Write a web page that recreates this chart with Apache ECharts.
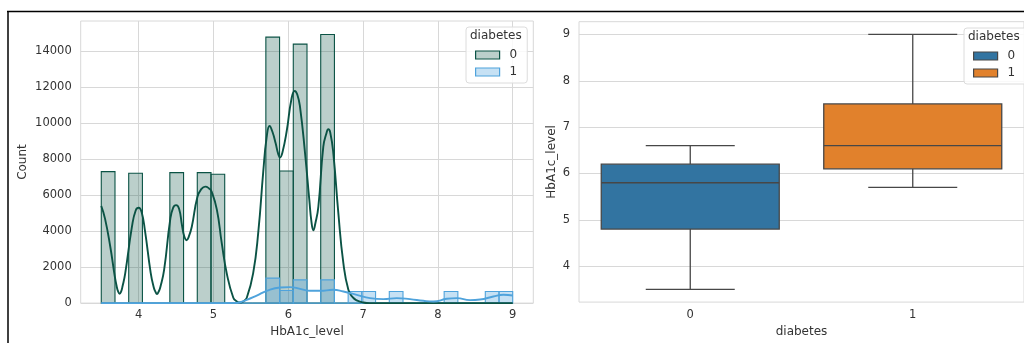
<!DOCTYPE html>
<html><head><meta charset="utf-8">
<script src="https://cdn.jsdelivr.net/npm/echarts@6/dist/echarts.min.js"></script>
<style>html,body{margin:0;padding:0;background:#fff}#c{width:1024px;height:343px}</style>
</head><body><div id="c"></div>
<script>
// ---------- data ----------
const binMin = 3.5, binMax = 9.0, binCount = 30;
const histCounts0 = [7311,0,7222,0,0,7256,0,7256,7167,0,0,0,14794,7350,14406,0,14944,0,0,0,0,0,0,0,0,0,0,0,0,0];
const histCounts1 = [0,0,0,0,0,0,0,0,0,0,0,0,1389,700,1294,0,1294,0,644,644,0,644,0,0,0,644,0,0,644,644];
const kdeX0 = [3.5,3.55,3.62,3.68,3.705,3.725,3.745,3.765,3.785,3.82,3.91,3.96,4.0,4.04,4.085,4.16,4.2,4.225,4.245,4.265,4.29,4.34,4.42,4.46,4.5,4.54,4.58,4.61,4.64,4.67,4.71,4.785,4.84,4.89,4.94,4.975,5.045,5.11,5.18,5.265,5.31,5.355,5.40,5.445,5.53,5.6,5.665,5.71,5.75,5.79,5.83,5.865,5.89,5.92,5.98,6.04,6.085,6.12,6.157,6.224,6.281,6.31,6.335,6.36,6.402,6.468,6.51,6.535,6.56,6.602,6.669,6.736,6.803,6.86,6.915,7.0,7.09,7.5,8.0,8.5,9.0];
const kdeY0 = [5400,4700,3150,1500,950,650,520,640,950,1650,4250,5150,5300,5050,4000,1700,900,620,500,620,900,1850,4600,5300,5450,5250,4300,3700,3500,3700,4250,5900,6350,6480,6380,6200,5200,3350,1600,300,100,30,100,300,1650,4000,7300,9200,9850,9500,8900,8300,8100,8350,9600,11300,11800,11600,10900,8333,5739,4500,4050,4400,5367,8700,9450,9667,9500,8333,5000,2222,739,330,150,40,0,0,0,0,0];
const kdeX1 = [3.5,4.0,4.5,5.0,5.3,5.444,5.578,5.712,5.89,6.023,6.157,6.29,6.424,6.602,6.736,6.915,7.093,7.27,7.45,7.627,7.805,7.939,8.118,8.252,8.43,8.563,8.741,8.875,9.0];
const kdeY1 = [0,0,0,0,10,183,422,683,867,889,794,683,683,739,644,461,278,222,278,222,128,89,239,278,167,200,367,461,422];
const histXTicks = [4,5,6,7,8,9];
const histYTicks = [0,2000,4000,6000,8000,10000,12000,14000];
const hueNames = ['0','1'];
const boxCategories = ['0','1'];
const boxStats0 = [3.5,4.8,5.8,6.2,6.6];
const boxStats1 = [5.7,6.1,6.6,7.5,9.0];
const boxYTicks = [4,5,6,7,8,9];

// ---------- styles ----------
const green = '#0b5345', blue = '#4fa3dc';
const greenFill = 'rgba(11,83,69,0.28)', blueFill = 'rgba(79,163,220,0.32)';
const boxColors = ['#3274a1', '#e1812c'];
const edge = '#474747';
const textColor = '#333';
const gridColor = '#d8d8d8';
const font = 'DejaVu Sans';

const binW = (binMax - binMin) / binCount;
const hist = counts => counts.map((v, i) => [binMin + i * binW, binMin + (i + 1) * binW, v]);
const xMargin = (binMax - binMin) * 0.05;
const yMaxLeft = Math.max(...histCounts0, ...histCounts1, ...kdeY0, ...kdeY1) * 1.05;
const bAll = boxStats0.concat(boxStats1);
const bMin = Math.min(...bAll), bMax = Math.max(...bAll), bPad = (bMax - bMin) * 0.05;

function histRender(fill, stroke) {
  return function (params, api) {
    const p0 = api.coord([api.value(0), api.value(2)]);
    const p1 = api.coord([api.value(1), 0]);
    return { type: 'rect', shape: { x: p0[0], y: p0[1], width: p1[0] - p0[0], height: p1[1] - p0[1] },
      style: { fill: fill, stroke: stroke, lineWidth: 1.1 } };
  };
}
function boxRender(color) {
  return function (params, api) {
    const c = api.value(0);
    const pMin = api.coord([c, api.value(1)]), pQ1 = api.coord([c, api.value(2)]),
          pMd = api.coord([c, api.value(3)]), pQ3 = api.coord([c, api.value(4)]), pMx = api.coord([c, api.value(5)]);
    const band = api.size([1, 0])[0];
    const half = band * 0.4, cap = band * 0.2, x = pQ1[0];
    const ls = { stroke: edge, lineWidth: 1.3 };
    return { type: 'group', children: [
      { type: 'line', shape: { x1: x, y1: pQ1[1], x2: x, y2: pMin[1] }, style: ls },
      { type: 'line', shape: { x1: x, y1: pQ3[1], x2: x, y2: pMx[1] }, style: ls },
      { type: 'line', shape: { x1: x - cap, y1: pMin[1], x2: x + cap, y2: pMin[1] }, style: ls },
      { type: 'line', shape: { x1: x - cap, y1: pMx[1], x2: x + cap, y2: pMx[1] }, style: ls },
      { type: 'rect', shape: { x: x - half, y: pQ3[1], width: 2 * half, height: pQ1[1] - pQ3[1] },
        style: { fill: color, stroke: edge, lineWidth: 1.3 } },
      { type: 'line', shape: { x1: x - half, y1: pMd[1], x2: x + half, y2: pMd[1] }, style: ls }
    ] };
  };
}

const tickLabel = { color: textColor, fontSize: 11.5, fontFamily: font };
const nameStyle = { color: textColor, fontSize: 12, fontFamily: font };
const legendText = { color: textColor, fontSize: 12, fontFamily: font, padding: [0, 0, 0, 5] };

const chart = echarts.init(document.getElementById('c'), null, { renderer: 'canvas' });
chart.setOption({
  animation: false,
  backgroundColor: '#fff',
  grid: [
    { left: 80.7, top: 21, width: 452.6, height: 282.3, show: true, borderColor: gridColor, borderWidth: 1 },
    { left: 579, top: 21.7, width: 453.3, height: 281.6, show: true, borderColor: gridColor, borderWidth: 1 }
  ],
  xAxis: [
    { gridIndex: 0, type: 'value', min: binMin - xMargin, max: binMax + xMargin,
      name: 'HbA1c_level', nameLocation: 'middle', nameGap: 21, nameTextStyle: nameStyle,
      axisLine: { show: false }, axisTick: { show: false, customValues: histXTicks },
      axisLabel: Object.assign({ customValues: histXTicks, margin: 6, formatter: v => String(v) }, tickLabel),
      splitLine: { show: true, lineStyle: { color: gridColor, width: 1 } } },
    { gridIndex: 1, type: 'category', data: boxCategories,
      name: 'diabetes', nameLocation: 'middle', nameGap: 21, nameTextStyle: nameStyle,
      axisLine: { show: false }, axisTick: { show: false },
      axisLabel: Object.assign({ margin: 7 }, tickLabel), splitLine: { show: false } }
  ],
  yAxis: [
    { gridIndex: 0, type: 'value', min: 0, max: yMaxLeft,
      name: 'Count', nameLocation: 'middle', nameGap: 52, nameTextStyle: nameStyle,
      axisLine: { show: false }, axisTick: { show: false, customValues: histYTicks },
      axisLabel: Object.assign({ customValues: histYTicks, margin: 9, formatter: v => String(v) }, tickLabel),
      splitLine: { show: true, lineStyle: { color: gridColor, width: 1 } } },
    { gridIndex: 1, type: 'value', min: bMin - bPad, max: bMax + bPad,
      name: 'HbA1c_level', nameLocation: 'middle', nameGap: 21, nameTextStyle: nameStyle,
      axisLine: { show: false }, axisTick: { show: false, customValues: boxYTicks },
      axisLabel: Object.assign({ customValues: boxYTicks, margin: 9, formatter: v => String(v) }, tickLabel),
      splitLine: { show: true, lineStyle: { color: gridColor, width: 1 } } }
  ],
  legend: [
    { orient: 'vertical', left: 466, top: 27, padding: [22, 10, 5, 9], itemGap: 5,
      itemWidth: 24, itemHeight: 8, selectedMode: false,
      backgroundColor: 'rgba(255,255,255,0.85)', borderColor: '#dcdcdc', borderWidth: 1, borderRadius: 3,
      textStyle: legendText, formatter: n => n.slice(1),
      data: [
        { name: 'h' + hueNames[0], icon: 'rect', itemStyle: { color: greenFill, borderColor: green, borderWidth: 1.2 } },
        { name: 'h' + hueNames[1], icon: 'rect', itemStyle: { color: blueFill, borderColor: blue, borderWidth: 1.2 } }
      ] },
    { orient: 'vertical', left: 964, top: 28, padding: [22, 20, 5, 9], itemGap: 5,
      itemWidth: 24, itemHeight: 8, selectedMode: false,
      backgroundColor: 'rgba(255,255,255,0.85)', borderColor: '#dcdcdc', borderWidth: 1, borderRadius: 3,
      textStyle: legendText, formatter: n => n.slice(1),
      data: [
        { name: 'b' + hueNames[0], icon: 'rect', itemStyle: { color: boxColors[0], borderColor: edge, borderWidth: 1.2 } },
        { name: 'b' + hueNames[1], icon: 'rect', itemStyle: { color: boxColors[1], borderColor: edge, borderWidth: 1.2 } }
      ] }
  ],
  title: [
    { text: 'diabetes', left: 470, top: 30, padding: 0, textStyle: { color: textColor, fontSize: 12, fontWeight: 'normal', fontFamily: font } },
    { text: 'diabetes', left: 968, top: 31, padding: 0, textStyle: { color: textColor, fontSize: 12, fontWeight: 'normal', fontFamily: font } }
  ],
  graphic: [
    { type: 'line', shape: { x1: 7, y1: 11.5, x2: 1024, y2: 11.5 }, style: { stroke: '#000', lineWidth: 1.5 }, z: 100 },
    { type: 'line', shape: { x1: 8, y1: 11, x2: 8, y2: 343 }, style: { stroke: '#000', lineWidth: 1.5 }, z: 100 }
  ],
  series: [
    { name: 'h' + hueNames[0], type: 'custom', xAxisIndex: 0, yAxisIndex: 0, data: hist(histCounts0),
      encode: { x: [0, 1], y: 2 }, renderItem: histRender(greenFill, green), z: 2, clip: false },
    { name: 'h' + hueNames[1], type: 'custom', xAxisIndex: 0, yAxisIndex: 0, data: hist(histCounts1),
      encode: { x: [0, 1], y: 2 }, renderItem: histRender(blueFill, blue), z: 3, clip: false },
    { name: 'kde0', type: 'line', xAxisIndex: 0, yAxisIndex: 0, data: kdeX0.map((x, i) => [x, kdeY0[i]]),
      smooth: 0.5, symbol: 'none', lineStyle: { color: green, width: 1.9 }, z: 4 },
    { name: 'kde1', type: 'line', xAxisIndex: 0, yAxisIndex: 0, data: kdeX1.map((x, i) => [x, kdeY1[i]]),
      smooth: 0.5, symbol: 'none', lineStyle: { color: blue, width: 1.9 }, z: 5 },
    { name: 'b' + hueNames[0], type: 'custom', xAxisIndex: 1, yAxisIndex: 1, data: [[0].concat(boxStats0)],
      encode: { x: 0, y: [1, 2, 3, 4, 5] }, renderItem: boxRender(boxColors[0]), itemStyle: { color: boxColors[0] } },
    { name: 'b' + hueNames[1], type: 'custom', xAxisIndex: 1, yAxisIndex: 1, data: [[1].concat(boxStats1)],
      encode: { x: 0, y: [1, 2, 3, 4, 5] }, renderItem: boxRender(boxColors[1]), itemStyle: { color: boxColors[1] } }
  ]
});
</script></body></html>
